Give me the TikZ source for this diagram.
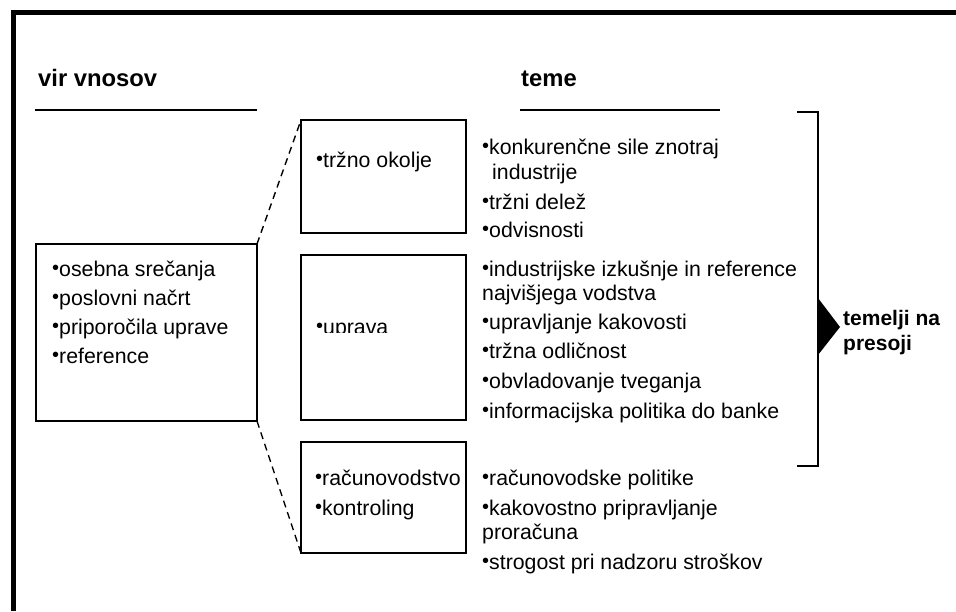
\documentclass[tikz,border=0pt]{standalone}
\usepackage{fontspec}
\setmainfont{Liberation Sans}
% raised bullet in front of each item
\newcommand\itemdot{\makebox[7pt][r]{\raisebox{1.8pt}{\fontsize{20}{20}\selectfont •}}}
\begin{document}
\begin{tikzpicture}[x=1pt,y=-1pt,
  body/.style={anchor=base west, inner sep=0pt, font=\fontsize{21.3}{25}\selectfont},
  head/.style={anchor=base west, inner sep=0pt, font=\fontsize{23.8}{28}\selectfont\bfseries},
  result/.style={anchor=base west, inner sep=0pt, font=\fontsize{21}{25}\selectfont\bfseries},
  panel/.style={draw, line width=1.8pt, anchor=north west, inner sep=0pt, outer sep=0pt},
  rule/.style={line width=1.8pt},
  link/.style={line width=1.4pt, dash pattern=on 7pt off 5pt}
]
\useasboundingbox (0,0) rectangle (956,611);

% outer frame (top and left edges)
\draw[line width=5pt] (13,611) -- (13,12.5) -- (956,12.5);

% column headings with rules
\node[head] (hsrc) at (38,86) {vir vnosov};
\node[head] (htop) at (521,86) {teme};
\draw[rule] (35,110) -- (257,110);
\draw[rule] (520,110) -- (720,110);

% boxes
\node[panel, minimum width=221, minimum height=177] (src) at (36,244) {};
\node[panel, minimum width=165, minimum height=113] (mkt) at (301,120) {};
\node[panel, minimum width=165, minimum height=165] (mgt) at (301,255) {};
\node[panel, minimum width=165, minimum height=111] (acc) at (301,442) {};

% dashed fan from the source box
\draw[link] (src.north east) -- (mkt.north west);
\draw[link] (src.south east) -- (acc.south west);

% source box items
\node[body] (s1) at (52,276) {\itemdot osebna srečanja};
\node[body] (s2) at (52,305) {\itemdot poslovni načrt};
\node[body] (s3) at (52,334) {\itemdot priporočila uprave};
\node[body] (s4) at (52,363) {\itemdot reference};

% topic boxes
\node[body] (m1) at (316,167) {\itemdot tržno okolje};
\begin{scope}
  \clip (302,256) rectangle (465,332);
  \node[body] (g1) at (316,334) {\itemdot uprava};
\end{scope}
\node[body] (a1) at (315,485) {\itemdot računovodstvo};
\node[body] (a2) at (315,515) {\itemdot kontroling};

% topic details
\node[body] (mk1) at (482,154) {\itemdot konkurenčne sile znotraj};
\node[body] (mk2) at (492,179) {industrije};
\node[body] (mk3) at (482,209) {\itemdot tržni delež};
\node[body] (mk4) at (482,237) {\itemdot odvisnosti};

\node[body] (mg1) at (482,276) {\itemdot industrijske izkušnje in reference};
\node[body] (mg2) at (482,300) {najvišjega vodstva};
\node[body] (mg3) at (482,329) {\itemdot upravljanje kakovosti};
\node[body] (mg4) at (482,358) {\itemdot tržna odličnost};
\node[body] (mg5) at (482,388) {\itemdot obvladovanje tveganja};
\node[body] (mg6) at (482,418) {\itemdot informacijska politika do banke};

\node[body] (ac1) at (482,485) {\itemdot računovodske politike};
\node[body] (ac2) at (482,515) {\itemdot kakovostno pripravljanje};
\node[body] (ac3) at (482,539) {proračuna};
\node[body] (ac4) at (482,569) {\itemdot strogost pri nadzoru stroškov};

% bracket with pointer
\draw[rule] (797,112) -- (818,112) -- (818,466) -- (797,466);
\fill (818,298) -- (840,327) -- (818,355) -- cycle;
\node[result] (res1) at (843,325) {temelji na};
\node[result] (res2) at (843,350) {presoji};
\end{tikzpicture}
\end{document}
